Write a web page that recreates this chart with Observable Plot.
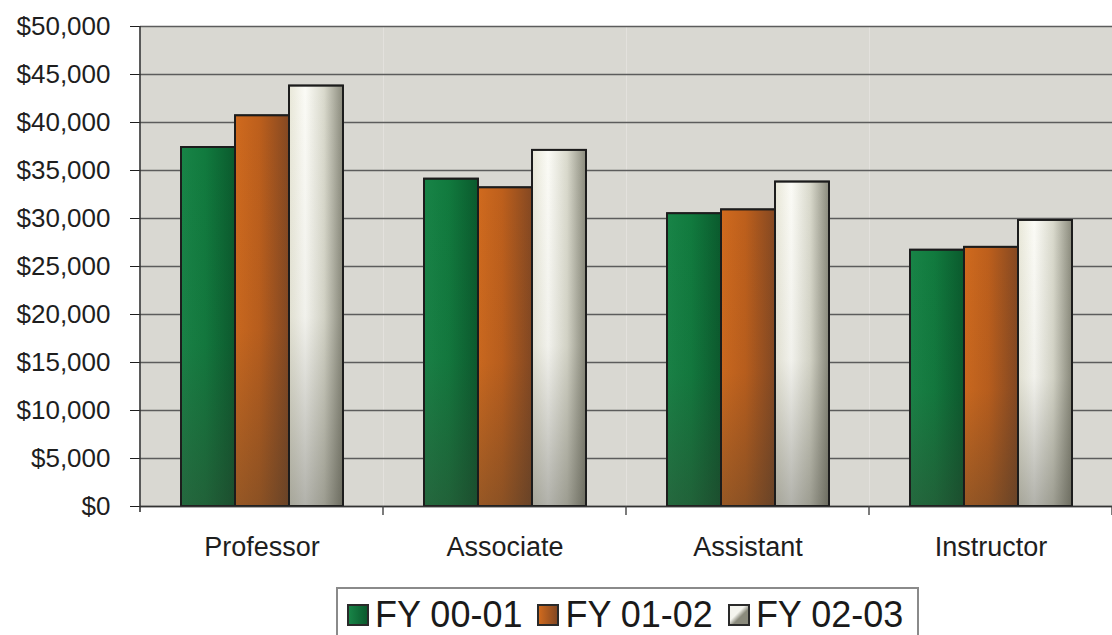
<!DOCTYPE html>
<html><head><meta charset="utf-8">
<script src="https://cdn.jsdelivr.net/npm/d3@7"></script>
<script src="https://cdn.jsdelivr.net/npm/@observablehq/plot@0.6"></script>
<style>
body{margin:0;background:#fff;font-family:Arial,"Liberation Sans",sans-serif;width:1112px;height:635px;overflow:hidden}
#legendWrap{position:absolute;left:336px;top:587px}
#legend{display:flex;align-items:center;gap:15px;width:564px;border:2px solid #8a8a8a;border-bottom:none;padding:7px 6px 12px 9px;font-size:36px;color:#1a1a1a;line-height:38px}
.item{display:flex;align-items:center;gap:6px}
.sw{width:18px;height:18px;border:2.5px solid #2a2a2a;display:inline-block}
</style>
</head><body>
<div id="chart"></div>
<div id="legendWrap"><div id="legend"></div></div>
<script>
const categories = ["Professor", "Associate", "Assistant", "Instructor"];
const series = ["FY 00-01", "FY 01-02", "FY 02-03"];
const fy0001 = [37400, 34100, 30500, 26700];
const fy0102 = [40700, 33200, 30900, 27000];
const fy0203 = [43800, 37100, 33800, 29800];
const yTicks = [0, 5000, 10000, 15000, 20000, 25000, 30000, 35000, 40000, 45000, 50000];
const seriesValues = [fy0001, fy0102, fy0203];

const data = categories.flatMap((c, i) => series.map((s, k) => ({category: c, series: s, value: seriesValues[k][i]})));

const gradients = [
  [["0%", "#188447"], ["45%", "#117a3e"], ["100%", "#0a5a2d"]],
  [["0%", "#d06a1e"], ["45%", "#bd5f1c"], ["100%", "#844822"]],
  [["0%", "#e8e7d8"], ["30%", "#fbfbf6"], ["65%", "#d9d9cc"], ["100%", "#8a8a7c"]]
];
const swatchBg = [
  "linear-gradient(90deg,#188447,#0a5a2d)",
  "linear-gradient(90deg,#d06a1e,#844822)",
  "linear-gradient(135deg,#f4f4ee 40%,#8a8a7c 60%)"
];

const font = 'Arial, "Liberation Sans", sans-serif';

const plot = Plot.plot({
  width: 1112,
  height: 575,
  marginLeft: 140,
  marginRight: 0,
  marginTop: 26,
  marginBottom: 69,
  style: {fontFamily: font, fontSize: "26px", color: "#1e1e1e", background: "transparent", overflow: "visible"},
  fx: {domain: categories, padding: 0, label: null, tickSize: 0, tickPadding: 30},
  x: {domain: series, paddingInner: 0, paddingOuter: 0.71, axis: null},
  y: {domain: [0, 50000], ticks: yTicks, tickFormat: d => "$" + d3.format(",")(d), label: null, tickSize: 10, tickPadding: 20},
  marks: [
    Plot.frame({fill: "#d9d8d2", stroke: null}),
    Plot.ruleY(yTicks, {y: d => d, stroke: "#5c5c5c", strokeWidth: 1.3}),
    ...series.map((s, k) => Plot.barY(data.filter(d => d.series === s), {
      fx: "category", x: "series", y: "value",
      fill: `url(#grad${k})`, stroke: "#1c1c1c", strokeWidth: 1.8
    })),
    ...series.map((s, k) => Plot.barY(data.filter(d => d.series === s), {
      fx: "category", x: "series", y: "value",
      fill: "url(#shade)", stroke: "#1c1c1c", strokeWidth: 1.8
    })),
    Plot.ruleY([0], {stroke: "#333", strokeWidth: 1.6})
  ]
});

// gradient definitions
const svg = d3.select(plot);
const defs = svg.insert("defs", ":first-child");
gradients.forEach((stops, k) => {
  const g = defs.append("linearGradient").attr("id", `grad${k}`).attr("x1", 0).attr("x2", 1).attr("y1", 0).attr("y2", 0);
  stops.forEach(([o, c]) => g.append("stop").attr("offset", o).attr("stop-color", c));
});
const sh = defs.append("linearGradient").attr("id", "shade").attr("x1", 0).attr("x2", 0).attr("y1", 0).attr("y2", 1);
sh.append("stop").attr("offset", "0%").attr("stop-color", "#3a3a30").attr("stop-opacity", 0);
sh.append("stop").attr("offset", "55%").attr("stop-color", "#3a3a30").attr("stop-opacity", 0.05);
sh.append("stop").attr("offset", "100%").attr("stop-color", "#3a3a30").attr("stop-opacity", 0.38);

// axis lines and category boundary ticks derived from the scales
const fx = plot.scale("fx");
const y = plot.scale("y");
const y0 = y.apply(0), yTop = y.apply(50000);
const left = fx.apply(categories[0]);
svg.append("line").attr("x1", left).attr("x2", left).attr("y1", yTop).attr("y2", y0 + 6)
  .attr("stroke", "#333").attr("stroke-width", 1.6);
categories.forEach(c => {
  const xb = fx.apply(c) + fx.bandwidth;
  svg.append("line").attr("x1", xb).attr("x2", xb).attr("y1", y0).attr("y2", y0 + 9)
    .attr("stroke", "#444").attr("stroke-width", 1.4);
});
svg.selectAll("[aria-label='fx-axis tick label'] text, [aria-label='fx-axis'] text").style("font-size", "27px");

document.getElementById("chart").appendChild(plot);

const legend = d3.select("#legend");
series.forEach((s, k) => {
  const it = legend.append("div").attr("class", "item");
  it.append("span").attr("class", "sw").style("background", swatchBg[k]);
  it.append("span").text(s);
});
</script>
</body></html>
